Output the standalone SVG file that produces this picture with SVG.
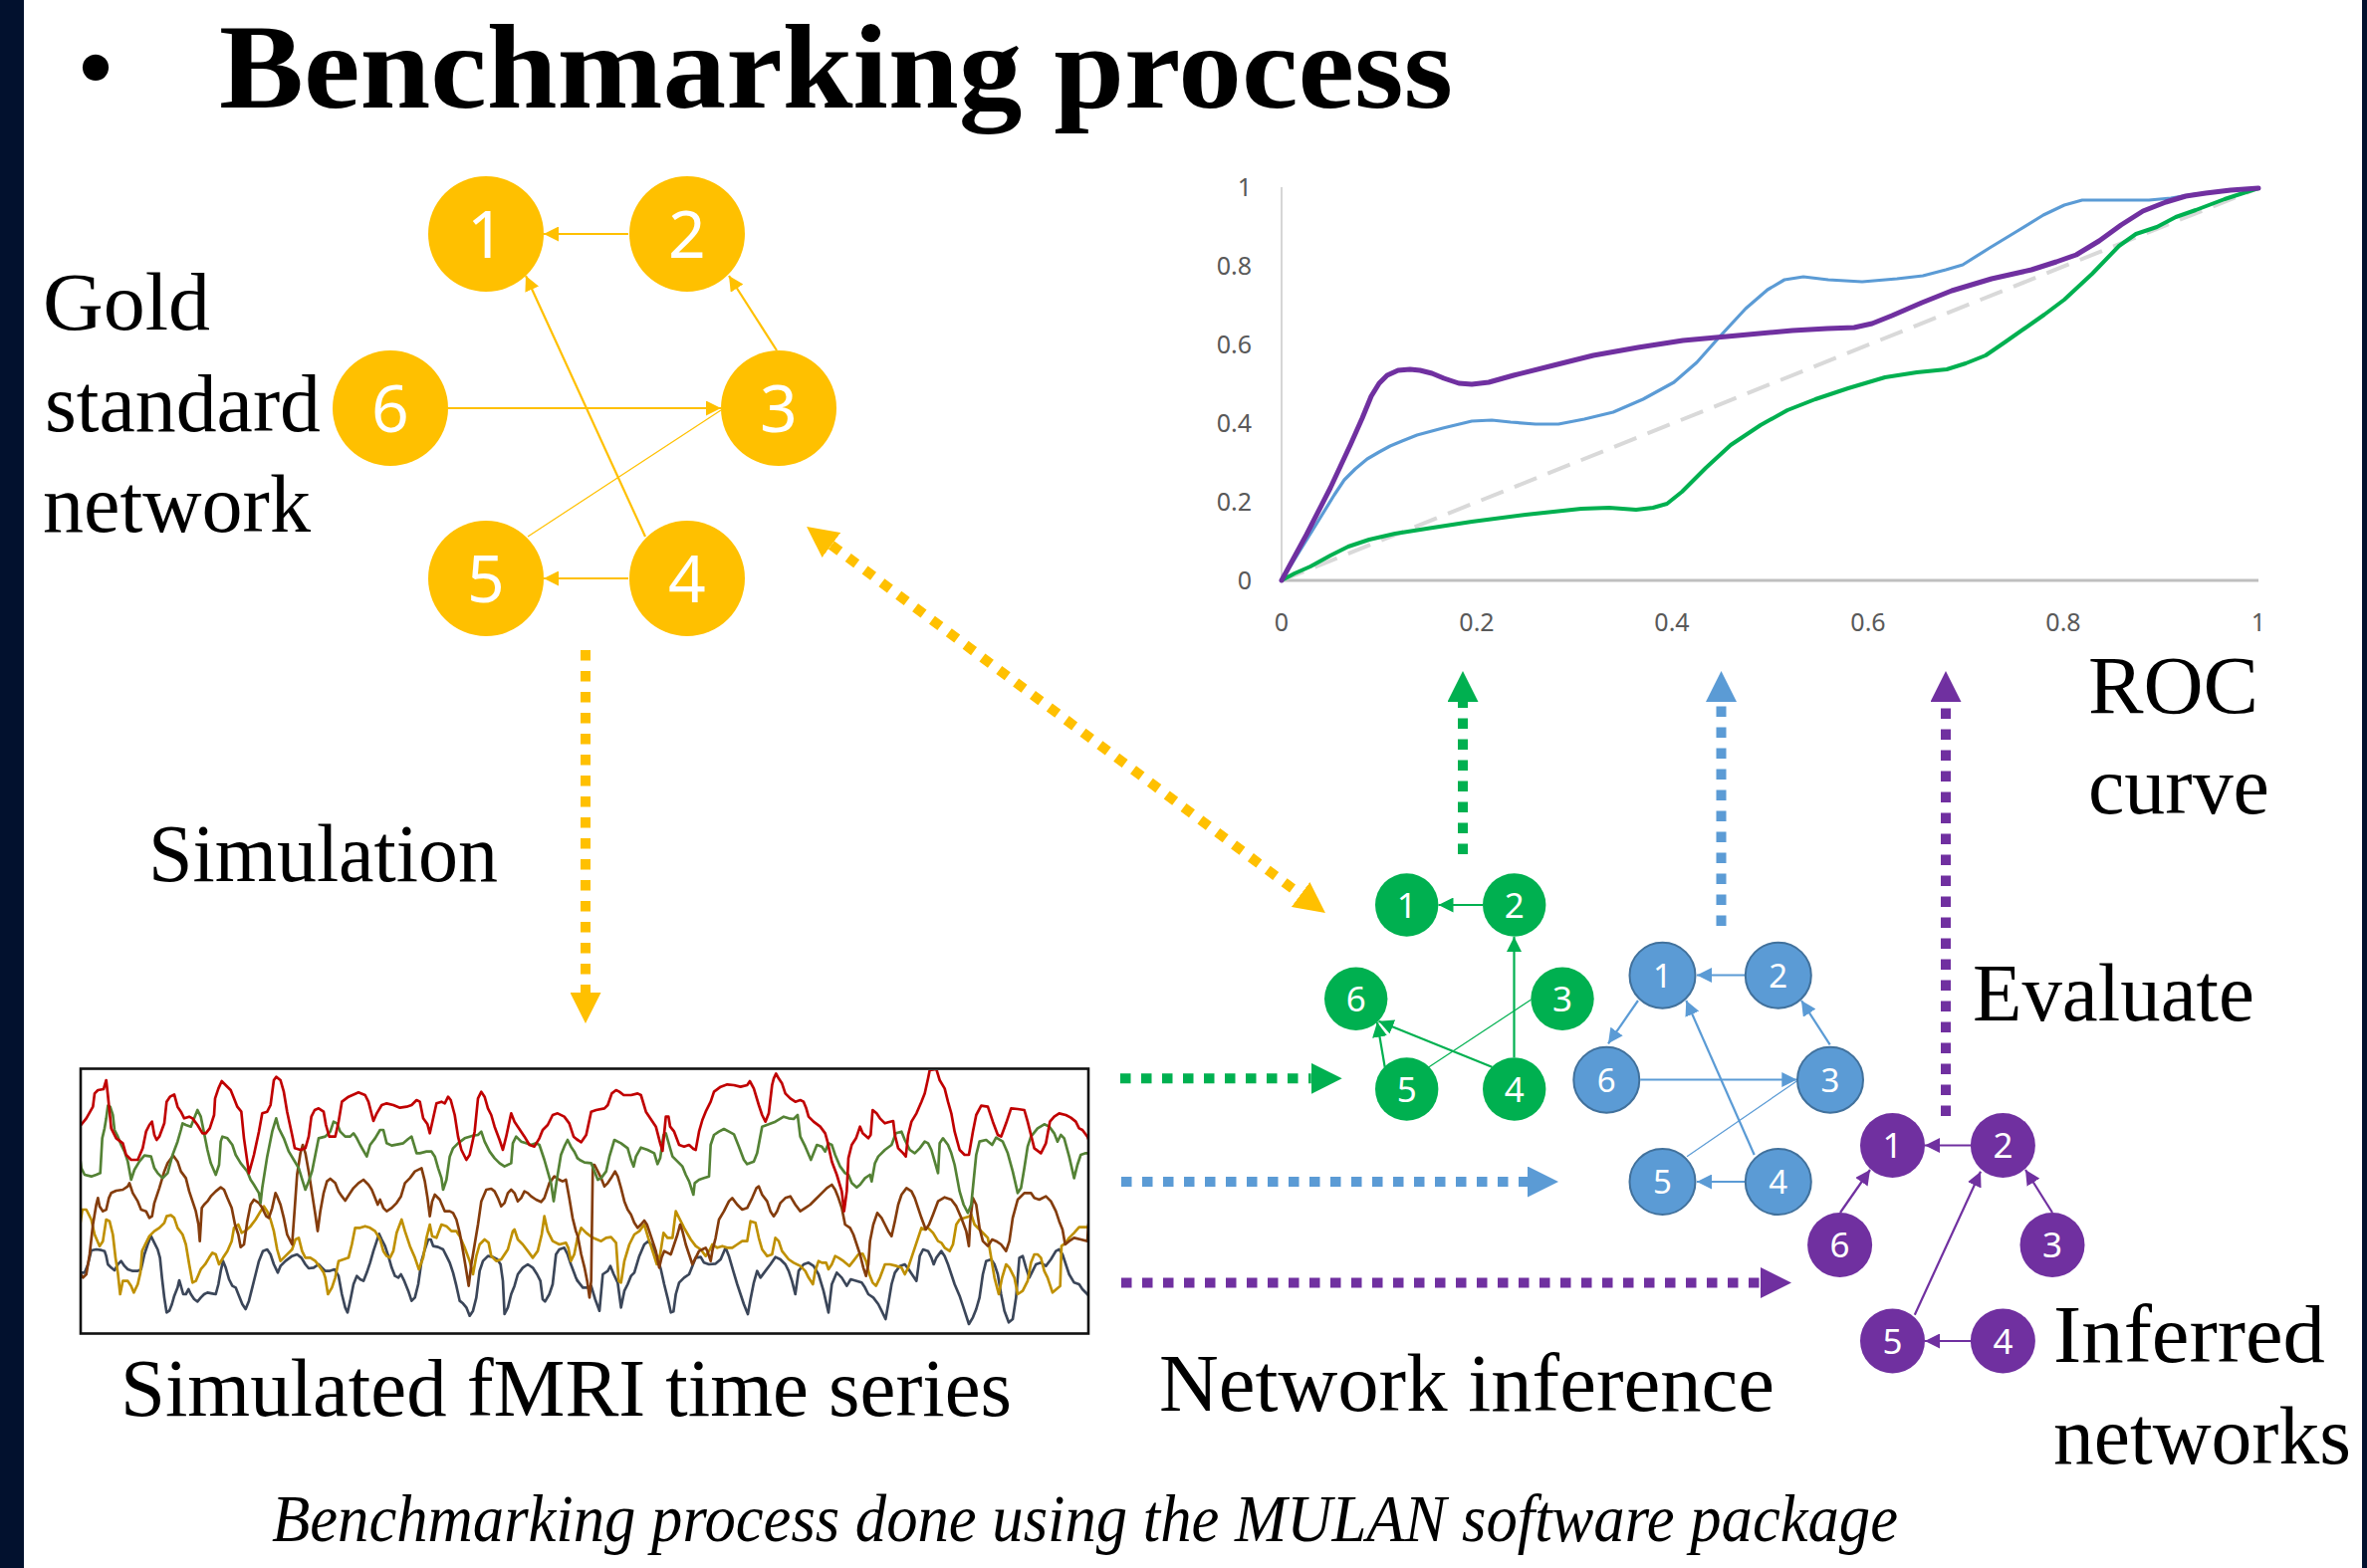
<svg xmlns="http://www.w3.org/2000/svg" width="2377" height="1575" viewBox="0 0 2377 1575">
  <defs>
    <style>
      .lbl { font-family: "Liberation Serif", "Times New Roman", serif; font-size: 82px; fill: #000; }
      .num { font-family: "Noto Sans", "Open Sans", sans-serif; fill: #fff; text-anchor: middle; }
      .tick { font-family: "Noto Sans", "Open Sans", sans-serif; font-size: 25px; fill: #595959; }
      .ts { fill: none; stroke-width: 8; stroke-linejoin: round; stroke-linecap: round; }
      .dots { fill: none; stroke-width: 10; stroke-dasharray: 10.5 10.5; }
      .edge { fill: none; stroke-width: 2.2; }
      .thin { fill: none; stroke-width: 1.2; }
      .roc { fill: none; stroke-linejoin: round; stroke-linecap: round; }
    </style>
    <!-- small edge arrowheads, tip on the path end -->
    <marker id="sGold" viewBox="0 0 10 10" refX="10" refY="5" markerWidth="15" markerHeight="15" markerUnits="userSpaceOnUse" orient="auto"><path d="M0,0L10,5L0,10z" fill="#FFC000"/></marker>
    <marker id="sGreen" viewBox="0 0 10 10" refX="10" refY="5" markerWidth="15" markerHeight="15" markerUnits="userSpaceOnUse" orient="auto"><path d="M0,0L10,5L0,10z" fill="#00B050"/></marker>
    <marker id="sBlue" viewBox="0 0 10 10" refX="10" refY="5" markerWidth="15" markerHeight="15" markerUnits="userSpaceOnUse" orient="auto"><path d="M0,0L10,5L0,10z" fill="#5B9BD5"/></marker>
    <marker id="sPurple" viewBox="0 0 10 10" refX="10" refY="5" markerWidth="15" markerHeight="15" markerUnits="userSpaceOnUse" orient="auto"><path d="M0,0L10,5L0,10z" fill="#7030A0"/></marker>
    <!-- large arrowheads for the dotted flow arrows, base on the path end -->
    <marker id="bGold" viewBox="0 0 10 10" refX="0" refY="5" markerWidth="31" markerHeight="31" markerUnits="userSpaceOnUse" orient="auto-start-reverse"><path d="M0,0L10,5L0,10z" fill="#FFC000"/></marker>
    <marker id="bGreen" viewBox="0 0 10 10" refX="0" refY="5" markerWidth="31" markerHeight="31" markerUnits="userSpaceOnUse" orient="auto"><path d="M0,0L10,5L0,10z" fill="#00B050"/></marker>
    <marker id="bBlue" viewBox="0 0 10 10" refX="0" refY="5" markerWidth="31" markerHeight="31" markerUnits="userSpaceOnUse" orient="auto"><path d="M0,0L10,5L0,10z" fill="#5B9BD5"/></marker>
    <marker id="bPurple" viewBox="0 0 10 10" refX="0" refY="5" markerWidth="31" markerHeight="31" markerUnits="userSpaceOnUse" orient="auto"><path d="M0,0L10,5L0,10z" fill="#7030A0"/></marker>
    <clipPath id="tsClip"><rect x="82" y="1075" width="1010" height="263"/></clipPath>
  </defs>

  <!-- slide background and side bands -->
  <rect x="0" y="0" width="2377" height="1575" fill="#fff"/>
  <rect x="0" y="0" width="24" height="1575" fill="#02112E"/>
  <rect x="2372" y="0" width="5" height="1575" fill="#02112E"/>

  <!-- title -->
  <text x="96" y="104" font-family="Liberation Serif, serif" font-size="110" text-anchor="middle">•</text>
  <text x="220" y="108" font-family="Liberation Serif, serif" font-size="120" font-weight="bold" textLength="1239" lengthAdjust="spacingAndGlyphs">Benchmarking process</text>

  <!-- labels -->
  <text class="lbl" x="43" y="331" textLength="168" lengthAdjust="spacingAndGlyphs">Gold</text>
  <text class="lbl" x="45" y="433" textLength="277" lengthAdjust="spacingAndGlyphs">standard</text>
  <text class="lbl" x="43" y="534" textLength="269" lengthAdjust="spacingAndGlyphs">network</text>
  <text class="lbl" x="149" y="885" textLength="351" lengthAdjust="spacingAndGlyphs">Simulation</text>
  <text class="lbl" x="121" y="1422" textLength="895" lengthAdjust="spacingAndGlyphs">Simulated fMRI time series</text>
  <text class="lbl" x="1164" y="1417" textLength="618" lengthAdjust="spacingAndGlyphs">Network inference</text>
  <text class="lbl" x="2097" y="716" textLength="171" lengthAdjust="spacingAndGlyphs">ROC</text>
  <text class="lbl" x="2097" y="817" textLength="182" lengthAdjust="spacingAndGlyphs">curve</text>
  <text class="lbl" x="1981" y="1025" textLength="283" lengthAdjust="spacingAndGlyphs">Evaluate</text>
  <text class="lbl" x="2062" y="1368" textLength="273" lengthAdjust="spacingAndGlyphs">Inferred</text>
  <text class="lbl" x="2062" y="1470" textLength="299" lengthAdjust="spacingAndGlyphs">networks</text>
  <text x="273" y="1548" font-family="Liberation Serif, serif" font-size="68" font-style="italic" textLength="1633" lengthAdjust="spacingAndGlyphs">Benchmarking process done using the MULAN software package</text>

  <!-- ROC chart -->
  <g id="roc-chart">
    <line x1="1287" y1="188" x2="1287" y2="583" stroke="#c8c8c8" stroke-width="1.5"/>
    <line x1="1287" y1="583" x2="2268" y2="583" stroke="#bfbfbf" stroke-width="3"/>
    <g class="tick" text-anchor="end">
      <text x="1257" y="592">0</text>
      <text x="1257" y="513">0.2</text>
      <text x="1257" y="434">0.4</text>
      <text x="1257" y="355">0.6</text>
      <text x="1257" y="276">0.8</text>
      <text x="1257" y="197">1</text>
    </g>
    <g class="tick" text-anchor="middle">
      <text x="1287" y="634">0</text>
      <text x="1483" y="634">0.2</text>
      <text x="1679" y="634">0.4</text>
      <text x="1876" y="634">0.6</text>
      <text x="2072" y="634">0.8</text>
      <text x="2268" y="634">1</text>
    </g>
    <line x1="1287" y1="583" x2="2268" y2="189" stroke="#d9d9d9" stroke-width="4" stroke-dasharray="24 12"/>
    <polyline class="roc" stroke="#00B050" stroke-width="4" points="1287,583 1300,576 1316,569 1336,558 1354,549 1375,542 1401,536 1439,530 1478,524 1532,517 1588,511 1616,510 1643,512 1660,510 1674,506 1689,494 1713,470 1738,447 1768,427 1795,412 1823,401 1856,390 1893,379 1925,374 1955,371 1974,365 1994,357 2013,344 2033,330 2053,316 2073,301 2101,275 2128,247 2145,235 2166,228 2185,218 2205,211 2234,200 2268,189"/>
    <polyline class="roc" stroke="#5B9BD5" stroke-width="3.2" points="1287,583 1316,536 1340,497 1350,482 1361,471 1373,461 1385,454 1396,448 1408,443 1423,437 1449,430 1478,423 1498,422 1517,424 1542,426 1565,426 1591,421 1620,414 1650,401 1681,384 1704,364 1728,337 1753,310 1775,291 1792,281 1811,278 1836,281 1870,283 1905,280 1931,277 1954,271 1971,266 1998,249 2026,232 2052,216 2073,206 2091,201 2121,201 2158,201 2180,199 2204,195 2234,192 2268,189"/>
    <polyline class="roc" stroke="#7030A0" stroke-width="5" points="1287,583 1312,537 1336,490 1356,447 1368,420 1377,398 1385,385 1393,377 1404,372 1416,371 1426,372 1438,375 1450,380 1465,385 1478,386 1495,384 1520,377 1560,367 1600,357 1645,349 1690,342 1745,337 1800,332 1835,330 1862,329 1880,325 1900,317 1930,304 1960,292 2000,280 2040,271 2065,263 2085,256 2108,242 2130,226 2152,212 2175,203 2195,197 2215,194 2240,191 2268,189"/>
  </g>

  <!-- simulated time series panel -->
  <g id="time-series">
    <rect x="81" y="1073.5" width="1012" height="266" fill="#fff"/>
    <g clip-path="url(#tsClip)">
      <g transform="translate(80 1070) scale(0.33333)">
        <polyline class="ts" stroke="#3B4659" points="0,625 15,625 25,600 35,558 50,555 65,557 75,560 80,575 85,600 95,610 105,618 115,600 125,590 135,605 145,615 160,620 175,620 185,615 195,570 205,540 215,515 225,535 235,555 242,580 248,640 255,700 262,745 270,740 278,720 285,695 295,670 300,648 305,665 312,690 320,690 328,675 335,690 345,705 355,712 365,700 375,690 385,685 400,688 410,690 418,660 425,620 432,590 440,610 450,645 460,665 470,670 478,690 490,720 500,735 510,710 520,670 530,630 540,590 552,560 565,555 575,570 585,600 597,625 605,605 620,590 640,575 655,570 668,580 680,600 690,612 705,610 720,600 730,610 740,620 752,620 768,615 780,635 790,690 800,730 807,745 815,710 825,660 835,635 845,645 855,650 865,625 875,595 885,560 895,530 902,508 910,525 920,545 930,575 940,610 950,635 960,640 968,630 978,650 990,680 1000,710 1010,700 1020,660 1030,590 1040,555 1050,525 1058,525 1065,545 1080,548 1095,555 1105,575 1115,595 1125,625 1135,665 1145,710 1155,718 1165,730 1175,755 1185,740 1195,700 1205,620 1215,590 1230,575 1245,578 1258,585 1268,600 1275,650 1280,750 1290,730 1300,690 1310,665 1320,630 1335,610 1350,600 1365,610 1378,630 1388,650 1395,705 1402,712 1415,690 1425,660 1435,570 1445,555 1460,550 1470,570 1480,600 1495,640 1500,650"/>
        <polyline class="ts" stroke="#BF9000" points="0,490 8,435 20,435 35,465 45,510 60,545 70,530 80,465 90,470 100,510 108,580 115,625 122,690 130,650 145,650 155,665 163,685 175,660 183,625 188,560 200,535 210,515 225,500 240,490 255,475 262,455 275,452 285,460 295,490 310,510 320,540 330,600 340,655 350,650 365,615 378,600 390,580 400,565 410,570 420,600 432,580 445,560 458,530 465,490 478,480 488,505 498,500 515,485 530,465 545,440 555,425 565,440 575,465 585,500 595,555 605,590 620,575 640,555 650,525 660,520 670,560 680,580 695,580 710,590 725,610 735,625 740,640 748,690 760,670 770,640 780,590 795,585 810,580 820,540 830,490 845,490 860,485 875,490 890,500 905,525 915,560 925,575 935,580 945,560 955,505 970,465 980,500 995,545 1010,580 1022,615 1035,580 1045,520 1055,480 1062,515 1075,520 1090,480 1105,485 1120,500 1135,500 1145,515 1160,550 1175,590 1185,630 1195,575 1205,540 1220,525 1232,535 1240,575 1255,590 1270,585 1290,555 1305,500 1310,495 1320,525 1335,540 1350,560 1365,580 1380,560 1392,510 1400,455 1410,500 1425,530 1445,540 1465,535 1472,550 1480,590 1490,570 1500,520"/>
        <polyline class="ts" stroke="#843C0C" points="0,625 10,640 20,630 30,570 40,480 50,420 55,400 60,425 70,440 80,435 88,400 95,385 110,378 130,375 145,365 150,355 160,385 175,410 185,435 200,440 210,460 218,455 225,415 240,370 255,320 265,295 282,272 295,290 305,320 320,340 330,380 340,410 350,440 358,480 362,530 368,430 375,420 385,410 395,395 410,380 425,368 435,375 445,400 458,430 468,480 478,510 485,548 495,540 505,470 515,420 525,405 540,415 550,430 562,455 570,460 580,430 590,385 595,395 605,420 615,460 625,510 640,540 648,430 655,330 665,265 672,240 680,265 690,320 700,385 710,450 717,500 725,440 735,385 745,350 755,342 770,355 780,380 790,395 800,408 815,385 825,370 840,355 855,345 870,360 880,375 890,400 898,420 905,405 915,430 925,440 940,430 955,415 968,395 980,355 995,340 1010,320 1030,310 1040,350 1048,400 1055,455 1062,410 1070,390 1085,405 1100,440 1115,440 1125,445 1135,465 1145,505 1155,560 1165,620 1172,665 1180,600 1190,540 1200,480 1210,410 1225,375 1240,372 1250,380 1260,400 1270,425 1280,415 1290,385 1300,375 1310,385 1320,410 1330,400 1340,380 1350,385 1360,395 1375,405 1390,412 1400,400 1415,355 1430,335 1445,345 1455,350 1465,345 1475,400 1485,460 1495,500 1500,512"/>
        <polyline class="ts" stroke="#548235" points="0,270 5,310 15,330 35,335 50,330 62,325 68,220 75,190 80,160 85,122 92,125 100,150 105,195 115,215 125,240 135,260 145,290 155,345 165,315 180,290 195,272 215,275 225,310 235,325 250,340 265,325 280,270 295,230 305,195 310,175 320,180 335,185 345,160 355,135 365,155 375,205 385,255 395,295 410,330 420,300 425,230 430,215 445,220 460,240 470,270 485,295 505,320 515,345 525,360 540,385 545,415 550,370 565,275 580,200 592,160 600,190 615,220 630,260 645,285 660,310 672,350 680,375 690,350 700,320 710,270 720,220 740,215 755,200 765,170 775,175 785,200 800,215 815,215 825,205 835,220 845,240 865,275 875,240 890,220 905,195 915,195 925,235 940,242 960,238 975,235 990,222 1000,215 1015,265 1025,265 1045,260 1060,260 1070,275 1080,310 1090,340 1095,375 1105,345 1115,275 1125,250 1140,235 1160,220 1185,212 1200,210 1210,200 1220,230 1235,260 1250,280 1265,295 1280,305 1300,295 1305,235 1315,215 1330,230 1345,235 1360,240 1375,235 1385,240 1400,285 1410,320 1420,355 1428,410 1440,330 1450,270 1460,245 1470,225 1480,245 1490,260 1500,280"/>
        <polyline class="ts" stroke="#C00000" points="0,185 20,160 40,125 45,85 55,75 72,72 80,45 85,90 95,190 110,220 130,235 140,270 155,285 175,285 190,250 200,200 210,180 218,170 225,210 232,225 240,215 255,175 262,110 272,95 285,88 295,125 305,140 315,160 330,155 340,160 355,180 370,205 380,205 392,190 405,150 408,100 418,70 428,48 440,60 455,75 465,100 475,125 487,140 495,220 510,325 525,270 540,200 550,145 565,140 575,120 585,45 592,35 605,45 615,80 625,140 640,210 648,250 665,255 680,250 690,215 698,155 708,135 720,130 735,140 742,180 752,215 770,215 780,170 790,110 810,95 840,82 860,90 870,110 885,168 895,145 910,120 925,115 945,120 965,128 985,125 1000,120 1015,105 1025,110 1035,160 1048,178 1055,205 1065,160 1075,115 1090,110 1100,115 1110,95 1118,105 1130,150 1140,215 1150,255 1165,285 1175,270 1190,200 1200,100 1210,80 1220,95 1230,130 1240,150 1250,185 1265,225 1275,255 1285,215 1300,145 1310,170 1320,185 1340,215 1355,240 1370,245 1385,220 1395,195 1410,180 1425,150 1440,145 1460,155 1475,175 1488,215 1500,225"/>
      </g>
      <g transform="translate(577 1070) scale(0.33333)">
        <polyline class="ts" stroke="#3B4659" points="9,650 25,670 40,670 50,665 62,705 75,740 85,630 100,620 108,605 118,630 130,655 140,730 150,680 160,660 170,635 180,625 195,575 210,540 222,530 235,545 250,580 260,615 270,660 280,700 290,745 298,742 305,690 315,655 330,640 345,630 355,605 365,580 380,578 390,595 405,600 425,598 440,585 455,550 465,575 478,620 490,660 500,690 510,720 522,750 530,705 540,655 550,620 560,640 575,620 590,600 605,578 620,585 635,600 645,620 655,650 665,690 675,620 690,600 705,595 720,605 735,630 750,680 765,745 775,660 790,625 805,640 820,665 832,645 850,650 865,655 875,670 885,690 900,700 915,720 925,740 937,765 945,720 955,660 965,625 980,605 995,600 1010,620 1020,635 1030,650 1040,575 1050,555 1065,560 1075,580 1082,600 1090,580 1105,560 1115,575 1125,600 1135,630 1145,660 1160,695 1170,725 1188,780 1200,760 1210,735 1220,700 1230,630 1240,590 1255,585 1265,600 1275,630 1285,690 1295,740 1308,775 1320,765 1330,700 1340,580 1350,575 1360,610 1370,640 1380,620 1390,600 1405,595 1420,605 1435,585 1450,560 1460,555 1470,570 1480,600 1490,630 1505,655 1520,660 1530,675 1550,695"/>
        <polyline class="ts" stroke="#BF9000" points="9,520 20,490 35,505 55,520 80,530 95,520 110,518 125,535 133,650 140,655 150,590 165,540 180,510 195,500 210,480 222,520 235,560 248,600 258,570 268,505 280,520 295,520 305,440 315,460 330,490 350,525 365,545 380,555 395,575 408,555 415,540 430,550 445,545 460,550 475,550 490,540 505,530 520,530 530,470 545,475 555,520 565,555 580,575 595,570 605,520 615,530 625,560 645,585 660,595 680,605 695,620 705,640 718,660 725,620 735,590 745,595 758,595 765,615 775,600 785,575 795,580 810,590 828,605 840,590 855,570 868,568 878,590 888,630 898,655 908,665 920,640 935,600 950,600 970,605 985,610 995,630 1005,610 1015,580 1025,550 1035,520 1045,490 1055,495 1065,490 1080,505 1095,530 1105,535 1115,550 1130,560 1140,540 1150,480 1160,465 1175,460 1190,455 1195,450 1205,480 1220,495 1235,510 1245,520 1255,580 1265,640 1278,690 1288,640 1300,600 1310,610 1325,640 1335,690 1350,680 1365,650 1375,595 1385,570 1395,570 1405,580 1415,620 1425,640 1440,685 1463,665 1467,545 1480,535 1490,520 1505,505 1520,488 1548,488"/>
        <polyline class="ts" stroke="#843C0C" points="9,512 20,570 30,610 38,650 45,700 50,650 55,300 60,300 70,320 80,340 90,365 100,355 110,340 122,320 130,335 140,370 150,410 160,435 170,450 180,475 190,490 200,480 210,468 218,480 225,500 235,530 245,560 255,610 262,580 270,560 280,565 290,570 300,540 310,510 318,480 325,500 335,540 345,570 355,600 365,580 375,560 385,555 395,550 400,560 405,575 410,590 415,560 425,520 435,465 450,440 465,410 475,400 490,420 505,435 520,430 535,400 548,370 555,365 565,390 580,410 590,440 600,455 610,440 620,415 635,400 650,395 665,420 680,440 695,430 710,420 725,405 745,385 760,370 775,360 785,375 795,400 805,430 815,480 830,490 840,510 850,540 860,570 870,610 878,635 885,600 890,530 900,480 912,445 925,460 935,480 945,500 955,515 965,470 975,420 985,390 1000,370 1015,380 1025,400 1035,430 1045,460 1058,495 1068,480 1080,450 1095,410 1115,398 1135,405 1150,425 1165,460 1180,500 1188,545 1192,470 1200,400 1210,420 1220,490 1230,530 1245,545 1258,525 1270,530 1285,540 1300,560 1310,530 1320,460 1335,405 1355,385 1375,385 1385,400 1400,405 1420,395 1435,410 1450,440 1460,470 1470,495 1478,540 1490,530 1505,520 1525,525 1545,530 1548,480"/>
        <polyline class="ts" stroke="#548235" points="9,280 15,285 30,293 50,295 60,320 70,345 80,340 95,320 105,275 120,225 140,235 160,250 170,285 178,305 185,275 200,248 220,255 240,265 250,298 258,280 268,210 275,205 285,240 295,275 310,290 325,305 335,330 345,350 358,390 362,355 375,345 390,340 405,335 410,240 420,210 435,200 450,192 465,200 480,208 495,245 510,285 520,298 540,290 550,265 565,185 585,178 605,170 630,155 645,160 660,162 672,150 680,215 695,245 712,285 730,240 745,245 755,260 765,235 775,240 785,270 800,305 815,325 825,330 835,355 850,368 860,360 875,340 890,330 895,350 905,295 915,275 935,255 955,240 968,205 985,200 995,225 1010,255 1025,265 1040,250 1055,230 1065,235 1075,255 1085,290 1095,325 1100,235 1110,220 1125,240 1135,265 1145,300 1160,380 1172,420 1185,445 1195,420 1210,270 1220,230 1240,225 1258,240 1270,218 1290,230 1305,265 1320,320 1335,385 1345,370 1355,310 1365,245 1375,215 1395,190 1415,178 1430,185 1445,205 1455,230 1465,210 1475,220 1490,275 1505,340 1515,300 1525,270 1540,265 1555,265"/>
        <polyline class="ts" stroke="#C00000" points="9,225 20,232 35,210 50,140 65,135 90,130 100,120 112,85 125,75 135,80 148,90 170,90 190,85 200,90 215,140 235,170 245,185 258,235 265,258 275,155 283,155 288,185 300,200 315,240 330,245 345,240 358,252 365,255 375,200 385,165 395,140 410,110 420,80 440,65 460,58 480,60 500,65 520,60 528,48 540,70 555,120 565,150 575,170 585,145 595,60 600,40 607,25 615,40 625,55 635,85 650,100 665,110 680,105 690,110 698,130 705,155 720,170 740,185 755,205 762,230 775,290 790,330 805,380 812,440 820,380 825,280 835,240 848,220 860,185 868,205 885,220 892,210 898,135 910,145 920,160 935,175 945,172 960,168 965,210 975,250 990,265 998,275 1005,210 1015,170 1030,145 1045,110 1055,85 1065,40 1070,15 1090,12 1100,45 1115,70 1125,110 1135,145 1145,200 1160,255 1175,270 1188,270 1200,200 1210,150 1225,122 1245,125 1260,170 1275,210 1285,215 1300,175 1315,130 1335,132 1355,135 1365,170 1375,210 1385,250 1405,265 1420,235 1432,170 1445,155 1460,145 1480,150 1495,158 1510,170 1520,190 1530,195 1545,215 1555,240"/>
      </g>
    </g>
    <rect x="81" y="1073.5" width="1012" height="266" fill="none" stroke="#111" stroke-width="2.6"/>
  </g>

  <!-- connectors: network edges and dotted flow arrows -->
  <g id="connectors">
    <!-- gold standard network edges -->
    <line class="edge" stroke="#FFC000" stroke-width="2.6" x1="631" y1="235" x2="546" y2="235" marker-end="url(#sGold)"/>
    <line class="edge" stroke="#FFC000" stroke-width="2.6" x1="780" y1="352" x2="732" y2="277" marker-end="url(#sGold)"/>
    <line class="edge" stroke="#FFC000" stroke-width="2.6" x1="450" y1="410" x2="724" y2="410" marker-end="url(#sGold)"/>
    <line class="edge" stroke="#FFC000" stroke-width="2.6" x1="648" y1="539" x2="528" y2="277" marker-end="url(#sGold)"/>
    <line class="thin" stroke="#FFC000" x1="530" y1="539" x2="724" y2="412"/>
    <line class="edge" stroke="#FFC000" stroke-width="2.6" x1="631" y1="581" x2="546" y2="581" marker-end="url(#sGold)"/>

    <!-- green inferred network edges -->
    <line class="edge" stroke="#00B050" x1="1489" y1="909" x2="1444.5" y2="909" marker-end="url(#sGreen)"/>
    <line class="edge" stroke="#00B050" x1="1520.5" y1="1062.3" x2="1520.5" y2="941" marker-end="url(#sGreen)"/>
    <line class="edge" stroke="#00B050" x1="1390.7" y1="1071.7" x2="1383" y2="1026.7" marker-end="url(#sGreen)"/>
    <line class="edge" stroke="#00B050" stroke-width="2.8" x1="1498.3" y1="1071.7" x2="1384.5" y2="1025.7" marker-end="url(#sGreen)"/>
    <line class="thin" stroke="#00B050" x1="1537.3" y1="1004.3" x2="1435" y2="1071.7"/>

    <!-- blue inferred network edges -->
    <line class="edge" stroke="#5B9BD5" x1="1752.3" y1="979.5" x2="1704" y2="979.5" marker-end="url(#sBlue)"/>
    <line class="edge" stroke="#5B9BD5" x1="1645" y1="1005" x2="1615" y2="1048.3" marker-end="url(#sBlue)"/>
    <line class="edge" stroke="#5B9BD5" x1="1837.7" y1="1049.3" x2="1809" y2="1005" marker-end="url(#sBlue)"/>
    <line class="edge" stroke="#5B9BD5" x1="1761.7" y1="1160" x2="1693.3" y2="1005" marker-end="url(#sBlue)"/>
    <line class="edge" stroke="#5B9BD5" x1="1647.3" y1="1084.5" x2="1804.3" y2="1084.5" marker-end="url(#sBlue)"/>
    <line class="thin" stroke="#5B9BD5" x1="1694" y1="1161.7" x2="1804.3" y2="1086"/>
    <line class="edge" stroke="#5B9BD5" x1="1752.3" y1="1187" x2="1704" y2="1187" marker-end="url(#sBlue)"/>

    <!-- purple inferred network edges -->
    <line class="edge" stroke="#7030A0" x1="1979" y1="1150.5" x2="1933" y2="1150.5" marker-end="url(#sPurple)"/>
    <line class="edge" stroke="#7030A0" x1="1848" y1="1218" x2="1878" y2="1175" marker-end="url(#sPurple)"/>
    <line class="edge" stroke="#7030A0" x1="2061" y1="1218" x2="2034" y2="1175" marker-end="url(#sPurple)"/>
    <line class="edge" stroke="#7030A0" x1="1922.8" y1="1320.7" x2="1989" y2="1176.7" marker-end="url(#sPurple)"/>
    <line class="edge" stroke="#7030A0" x1="1979" y1="1347" x2="1933" y2="1347" marker-end="url(#sPurple)"/>

    <!-- dotted process arrows -->
    <line class="dots" stroke="#FFC000" x1="588" y1="653" x2="588" y2="997" marker-end="url(#bGold)"/>
    <line class="dots" stroke="#FFC000" x1="834.9" y1="547.5" x2="1306.1" y2="898.5" marker-start="url(#bGold)" marker-end="url(#bGold)"/>
    <line class="dots" stroke="#00B050" x1="1125" y1="1083.3" x2="1316.7" y2="1083.3" marker-end="url(#bGreen)"/>
    <line class="dots" stroke="#5B9BD5" x1="1126" y1="1187" x2="1534" y2="1187" marker-end="url(#bBlue)"/>
    <line class="dots" stroke="#7030A0" x1="1126" y1="1288.5" x2="1768" y2="1288.5" marker-end="url(#bPurple)"/>
    <line class="dots" stroke="#00B050" x1="1469" y1="858" x2="1469" y2="705" marker-end="url(#bGreen)"/>
    <line class="dots" stroke="#5B9BD5" x1="1728.5" y1="930" x2="1728.5" y2="705" marker-end="url(#bBlue)"/>
    <line class="dots" stroke="#7030A0" x1="1954" y1="1121" x2="1954" y2="705" marker-end="url(#bPurple)"/>
  </g>

  <!-- gold standard network nodes -->
  <g id="gold-1"><circle cx="488" cy="235" r="58" fill="#FFC000"/><text class="num" x="488" y="258.5" font-size="66">1</text></g>
  <g id="gold-2"><circle cx="690" cy="235" r="58" fill="#FFC000"/><text class="num" x="690" y="258.5" font-size="66">2</text></g>
  <g id="gold-6"><circle cx="392" cy="410" r="58" fill="#FFC000"/><text class="num" x="392" y="433.5" font-size="66">6</text></g>
  <g id="gold-3"><circle cx="782" cy="410" r="58" fill="#FFC000"/><text class="num" x="782" y="433.5" font-size="66">3</text></g>
  <g id="gold-5"><circle cx="488" cy="581" r="58" fill="#FFC000"/><text class="num" x="488" y="604.5" font-size="66">5</text></g>
  <g id="gold-4"><circle cx="690" cy="581" r="58" fill="#FFC000"/><text class="num" x="690" y="604.5" font-size="66">4</text></g>

  <!-- green inferred network nodes -->
  <g id="green-1"><circle cx="1412.7" cy="909" r="31.7" fill="#00B050"/><text class="num" x="1412.7" y="921.5" font-size="35">1</text></g>
  <g id="green-2"><circle cx="1520.7" cy="909" r="31.7" fill="#00B050"/><text class="num" x="1520.7" y="921.5" font-size="35">2</text></g>
  <g id="green-6"><circle cx="1361.7" cy="1003.3" r="31.7" fill="#00B050"/><text class="num" x="1361.7" y="1015.8" font-size="35">6</text></g>
  <g id="green-3"><circle cx="1569" cy="1003.3" r="31.7" fill="#00B050"/><text class="num" x="1569" y="1015.8" font-size="35">3</text></g>
  <g id="green-5"><circle cx="1412.7" cy="1094" r="31.7" fill="#00B050"/><text class="num" x="1412.7" y="1106.5" font-size="35">5</text></g>
  <g id="green-4"><circle cx="1520.7" cy="1094" r="31.7" fill="#00B050"/><text class="num" x="1520.7" y="1106.5" font-size="35">4</text></g>

  <!-- blue inferred network nodes -->
  <g id="blue-1"><circle cx="1669.5" cy="979.7" r="33" fill="#5B9BD5" stroke="#41719C" stroke-width="2"/><text class="num" x="1669.5" y="991.5" font-size="33">1</text></g>
  <g id="blue-2"><circle cx="1785.8" cy="979.7" r="33" fill="#5B9BD5" stroke="#41719C" stroke-width="2"/><text class="num" x="1785.8" y="991.5" font-size="33">2</text></g>
  <g id="blue-6"><circle cx="1613.3" cy="1084.7" r="33" fill="#5B9BD5" stroke="#41719C" stroke-width="2"/><text class="num" x="1613.3" y="1096.5" font-size="33">6</text></g>
  <g id="blue-3"><circle cx="1838" cy="1084.7" r="33" fill="#5B9BD5" stroke="#41719C" stroke-width="2"/><text class="num" x="1838" y="1096.5" font-size="33">3</text></g>
  <g id="blue-5"><circle cx="1669.5" cy="1187" r="33" fill="#5B9BD5" stroke="#41719C" stroke-width="2"/><text class="num" x="1669.5" y="1198.8" font-size="33">5</text></g>
  <g id="blue-4"><circle cx="1785.8" cy="1187" r="33" fill="#5B9BD5" stroke="#41719C" stroke-width="2"/><text class="num" x="1785.8" y="1198.8" font-size="33">4</text></g>

  <!-- purple inferred network nodes -->
  <g id="purple-1"><circle cx="1900.5" cy="1150.5" r="32.5" fill="#7030A0"/><text class="num" x="1900.5" y="1163" font-size="35">1</text></g>
  <g id="purple-2"><circle cx="2011.4" cy="1150.5" r="32.5" fill="#7030A0"/><text class="num" x="2011.4" y="1163" font-size="35">2</text></g>
  <g id="purple-6"><circle cx="1847.6" cy="1250.5" r="32.5" fill="#7030A0"/><text class="num" x="1847.6" y="1263" font-size="35">6</text></g>
  <g id="purple-3"><circle cx="2061" cy="1250.5" r="32.5" fill="#7030A0"/><text class="num" x="2061" y="1263" font-size="35">3</text></g>
  <g id="purple-5"><circle cx="1900.5" cy="1347" r="32.5" fill="#7030A0"/><text class="num" x="1900.5" y="1359.5" font-size="35">5</text></g>
  <g id="purple-4"><circle cx="2011.4" cy="1347" r="32.5" fill="#7030A0"/><text class="num" x="2011.4" y="1359.5" font-size="35">4</text></g>
</svg>
